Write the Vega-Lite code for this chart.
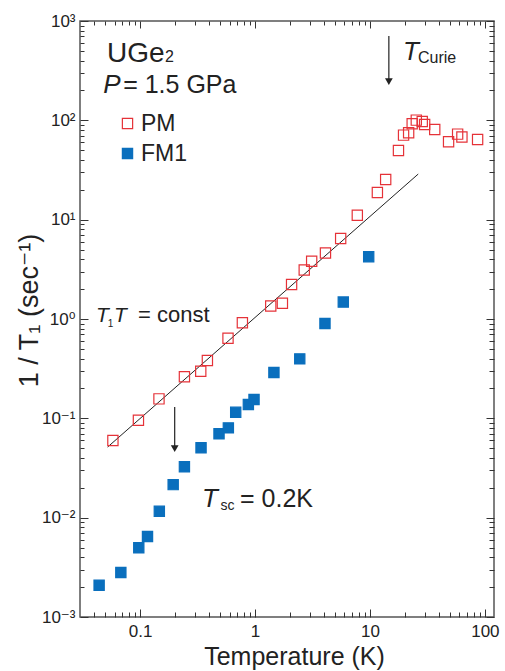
{
  "$schema": "https://vega.github.io/schema/vega-lite/v6.json",
  "width": 414,
  "height": 596,
  "autosize": {"type": "none"},
  "padding": {"left": 80, "top": 21, "right": 11, "bottom": 54},
  "background": "white",
  "datasets": {
    "points": [
      {"series": "PM", "T": 0.058, "R": 0.0598},
      {"series": "PM", "T": 0.0967, "R": 0.0957},
      {"series": "PM", "T": 0.146, "R": 0.157},
      {"series": "PM", "T": 0.243, "R": 0.262},
      {"series": "PM", "T": 0.337, "R": 0.298},
      {"series": "PM", "T": 0.385, "R": 0.382},
      {"series": "PM", "T": 0.582, "R": 0.641},
      {"series": "PM", "T": 0.776, "R": 0.916},
      {"series": "PM", "T": 1.37, "R": 1.35},
      {"series": "PM", "T": 1.73, "R": 1.44},
      {"series": "PM", "T": 2.08, "R": 2.23},
      {"series": "PM", "T": 2.68, "R": 3.12},
      {"series": "PM", "T": 3.11, "R": 3.82},
      {"series": "PM", "T": 4.1, "R": 4.61},
      {"series": "PM", "T": 5.56, "R": 6.47},
      {"series": "PM", "T": 7.76, "R": 11.1},
      {"series": "PM", "T": 11.6, "R": 18.8},
      {"series": "PM", "T": 13.7, "R": 25.4},
      {"series": "PM", "T": 17.7, "R": 49.8},
      {"series": "PM", "T": 19.6, "R": 71.0},
      {"series": "PM", "T": 21.7, "R": 75.0},
      {"series": "PM", "T": 23.3, "R": 92.4},
      {"series": "PM", "T": 25.3, "R": 100.5},
      {"series": "PM", "T": 28.5, "R": 97.5},
      {"series": "PM", "T": 29.9, "R": 91.0},
      {"series": "PM", "T": 36.6, "R": 81.0},
      {"series": "PM", "T": 48.3, "R": 60.9},
      {"series": "PM", "T": 57.9, "R": 72.6},
      {"series": "PM", "T": 63.1, "R": 67.8},
      {"series": "PM", "T": 86.4, "R": 64.2},
      {"series": "FM1", "T": 0.044, "R": 0.00209},
      {"series": "FM1", "T": 0.068, "R": 0.0028},
      {"series": "FM1", "T": 0.0974, "R": 0.00497},
      {"series": "FM1", "T": 0.116, "R": 0.00646},
      {"series": "FM1", "T": 0.147, "R": 0.0116},
      {"series": "FM1", "T": 0.194, "R": 0.0215},
      {"series": "FM1", "T": 0.243, "R": 0.0325},
      {"series": "FM1", "T": 0.339, "R": 0.0505},
      {"series": "FM1", "T": 0.486, "R": 0.0698},
      {"series": "FM1", "T": 0.586, "R": 0.0802},
      {"series": "FM1", "T": 0.679, "R": 0.115},
      {"series": "FM1", "T": 0.875, "R": 0.138},
      {"series": "FM1", "T": 0.98, "R": 0.155},
      {"series": "FM1", "T": 1.46, "R": 0.289},
      {"series": "FM1", "T": 2.45, "R": 0.397},
      {"series": "FM1", "T": 4.06, "R": 0.901},
      {"series": "FM1", "T": 5.86, "R": 1.48},
      {"series": "FM1", "T": 9.75, "R": 4.23}
    ],
    "fit": [
      {"T": 0.0522, "R": 0.0514},
      {"T": 26.3, "R": 28.8}
    ],
    "arrows": [
      {"T": 14.6, "R": 706, "R2": 245.5},
      {"T": 0.2, "R": 0.13, "R2": 0.0496}
    ]
  },
  "config": {
    "font": "Liberation Sans",
    "view": {"stroke": "#555", "strokeWidth": 1.5},
    "axis": {
      "domain": false,
      "grid": false,
      "tickColor": "#333",
      "tickWidth": 1,
      "labelFont": "Liberation Sans, DejaVu Sans",
      "labelFontSize": 17,
      "labelColor": "#222",
      "titleFont": "Liberation Sans, DejaVu Sans",
      "titleFontSize": 25,
      "titleFontWeight": "normal",
      "titleColor": "#222",
      "labelOverlap": false,
      "labelBound": false,
      "labelFlush": false
    },
    "legend": {
      "symbolType": "square",
      "symbolSize": 105,
      "symbolStrokeWidth": 1.2,
      "labelFont": "Liberation Sans",
      "labelFontSize": 23,
      "labelColor": "#222",
      "labelOffset": 2,
      "rowPadding": 6,
      "padding": 0,
      "offset": 0
    }
  },
  "resolve": {"axis": {"x": "independent", "y": "independent"}},
  "layer": [
    {
      "data": {"name": "fit"},
      "mark": {"type": "line", "color": "#222", "strokeWidth": 1},
      "encoding": {
        "x": {
          "field": "T", "type": "quantitative",
          "scale": {"type": "log", "domain": [0.03, 120], "nice": false},
          "axis": {
            "orient": "top", "title": null, "labels": false,
            "values": [0.04,0.05,0.06,0.07,0.08,0.09,0.1,0.2,0.3,0.4,0.5,0.6,0.7,0.8,0.9,1,2,3,4,5,6,7,8,9,10,20,30,40,50,60,70,80,90,100],
            "tickSize": {"condition": {"test": "indexof([0.1,1,10,100], datum.value) >= 0", "value": -7}, "value": -4}
          }
        },
        "y": {
          "field": "R", "type": "quantitative",
          "scale": {"type": "log", "domain": [0.001, 1000], "nice": false},
          "axis": {
            "orient": "right", "title": null, "labels": false,
            "values": [0.001,0.002,0.003,0.004,0.005,0.006,0.007,0.008,0.009,0.01,0.02,0.03,0.04,0.05,0.06,0.07,0.08,0.09,0.1,0.2,0.3,0.4,0.5,0.6,0.7,0.8,0.9,1,2,3,4,5,6,7,8,9,10,20,30,40,50,60,70,80,90,100,200,300,400,500,600,700,800,900,1000],
            "tickSize": {"condition": {"test": "indexof([0.001,0.01,0.1,1,10,100,1000], datum.value) >= 0", "value": -8}, "value": -5}
          }
        }
      }
    },
    {
      "data": {"name": "points"},
      "mark": {"type": "point", "shape": "square", "size": 105, "strokeWidth": 1.2, "opacity": 1},
      "encoding": {
        "x": {
          "field": "T", "type": "quantitative",
          "scale": {"type": "log", "domain": [0.03, 120], "nice": false},
          "axis": {
            "orient": "bottom", "title": "Temperature (K)",
            "titleX": 214, "titleY": 47, "titleAlign": "center", "titleBaseline": "alphabetic",
            "values": [0.04,0.05,0.06,0.07,0.08,0.09,0.1,0.2,0.3,0.4,0.5,0.6,0.7,0.8,0.9,1,2,3,4,5,6,7,8,9,10,20,30,40,50,60,70,80,90,100],
            "labelExpr": "datum.value == 0.1 ? '0.1' : datum.value == 1 ? '1' : datum.value == 10 ? '10' : datum.value == 100 ? '100' : ''",
            "labelPadding": 14,
            "tickSize": {"condition": {"test": "indexof([0.1,1,10,100], datum.value) >= 0", "value": -8}, "value": -5}
          }
        },
        "y": {
          "field": "R", "type": "quantitative",
          "scale": {"type": "log", "domain": [0.001, 1000], "nice": false},
          "axis": {
            "orient": "left", "title": "1 / T₁  (sec⁻¹)",
            "titleX": -43, "titleY": 289, "titleAlign": "center", "titleBaseline": "alphabetic", "titleFontSize": 27,
            "values": [0.001,0.002,0.003,0.004,0.005,0.006,0.007,0.008,0.009,0.01,0.02,0.03,0.04,0.05,0.06,0.07,0.08,0.09,0.1,0.2,0.3,0.4,0.5,0.6,0.7,0.8,0.9,1,2,3,4,5,6,7,8,9,10,20,30,40,50,60,70,80,90,100,200,300,400,500,600,700,800,900,1000],
            "labelExpr": "datum.value == 1000 ? '10³' : datum.value == 100 ? '10²' : datum.value == 10 ? '10¹' : datum.value == 1 ? '10⁰' : datum.value == 0.1 ? '10⁻¹' : datum.value == 0.01 ? '10⁻²' : datum.value == 0.001 ? '10⁻³' : ''",
            "labelPadding": 13,
            "tickSize": {"condition": {"test": "indexof([0.001,0.01,0.1,1,10,100,1000], datum.value) >= 0", "value": -8}, "value": -4}
          }
        },
        "stroke": {
          "field": "series", "type": "nominal",
          "scale": {"domain": ["PM", "FM1"], "range": ["#e53238", "#0a6fbd"]},
          "legend": {"orient": "none", "legendX": 36, "legendY": 91, "title": null}
        },
        "fill": {
          "field": "series", "type": "nominal",
          "scale": {"domain": ["PM", "FM1"], "range": ["transparent", "#0a6fbd"]},
          "legend": {"orient": "none", "legendX": 36, "legendY": 91, "title": null}
        }
      }
    },
    {
      "data": {"name": "arrows"},
      "mark": {"type": "rule", "color": "#222", "strokeWidth": 1.2},
      "encoding": {
        "x": {"field": "T", "type": "quantitative", "scale": {"type": "log", "domain": [0.03, 120], "nice": false}, "axis": null},
        "y": {"field": "R", "type": "quantitative", "scale": {"type": "log", "domain": [0.001, 1000], "nice": false}, "axis": null},
        "y2": {"field": "R2"}
      }
    },
    {
      "data": {"name": "arrows"},
      "mark": {"type": "point", "shape": "triangle-down", "size": 60, "filled": true, "color": "#222", "opacity": 1},
      "encoding": {
        "x": {"field": "T", "type": "quantitative", "scale": {"type": "log", "domain": [0.03, 120], "nice": false}, "axis": null},
        "y": {"field": "R2", "type": "quantitative", "scale": {"type": "log", "domain": [0.001, 1000], "nice": false}, "axis": null}
      }
    },
    {
      "data": {"values": [{"T": 0.0516, "R": 386.6, "label": "UGe"}]},
      "mark": {"type": "text", "align": "left", "baseline": "alphabetic", "fontSize": 28, "color": "#222", "font": "Liberation Sans"},
      "encoding": {
        "x": {"field": "T", "type": "quantitative", "scale": {"type": "log", "domain": [0.03, 120], "nice": false}, "axis": null},
        "y": {"field": "R", "type": "quantitative", "scale": {"type": "log", "domain": [0.001, 1000], "nice": false}, "axis": null},
        "text": {"field": "label"}
      }
    },
    {
      "data": {"values": [
        {"T": 0.0712, "R": 188.4, "label": "= 1.5 GPa"},
        {"T": 0.7404, "R": 0.0128, "label": "= 0.2K"}
      ]},
      "mark": {"type": "text", "align": "left", "baseline": "alphabetic", "fontSize": 25, "color": "#222", "font": "Liberation Sans"},
      "encoding": {
        "x": {"field": "T", "type": "quantitative", "scale": {"type": "log", "domain": [0.03, 120], "nice": false}, "axis": null},
        "y": {"field": "R", "type": "quantitative", "scale": {"type": "log", "domain": [0.001, 1000], "nice": false}, "axis": null},
        "text": {"field": "label"}
      }
    },
    {
      "data": {"values": [
        {"T": 0.0477, "R": 188.4, "label": "P"},
        {"T": 19.36, "R": 404.7, "label": "T"},
        {"T": 0.346, "R": 0.0128, "label": "T"}
      ]},
      "mark": {"type": "text", "align": "left", "baseline": "alphabetic", "fontSize": 26, "fontStyle": "italic", "color": "#222", "font": "Liberation Sans"},
      "encoding": {
        "x": {"field": "T", "type": "quantitative", "scale": {"type": "log", "domain": [0.03, 120], "nice": false}, "axis": null},
        "y": {"field": "R", "type": "quantitative", "scale": {"type": "log", "domain": [0.001, 1000], "nice": false}, "axis": null},
        "text": {"field": "label"}
      }
    },
    {
      "data": {"values": [
        {"T": 0.165, "R": 386.6, "label": "2"},
        {"T": 26.15, "R": 377.6, "label": "Curie"}
      ]},
      "mark": {"type": "text", "align": "left", "baseline": "alphabetic", "fontSize": 16, "color": "#222", "font": "Liberation Sans"},
      "encoding": {
        "x": {"field": "T", "type": "quantitative", "scale": {"type": "log", "domain": [0.03, 120], "nice": false}, "axis": null},
        "y": {"field": "R", "type": "quantitative", "scale": {"type": "log", "domain": [0.001, 1000], "nice": false}, "axis": null},
        "text": {"field": "label"}
      }
    },
    {
      "data": {"values": [
        {"T": 0.5, "R": 0.01194, "label": "sc"}
      ]},
      "mark": {"type": "text", "align": "left", "baseline": "alphabetic", "fontSize": 14, "color": "#222", "font": "Liberation Sans"},
      "encoding": {
        "x": {"field": "T", "type": "quantitative", "scale": {"type": "log", "domain": [0.03, 120], "nice": false}, "axis": null},
        "y": {"field": "R", "type": "quantitative", "scale": {"type": "log", "domain": [0.001, 1000], "nice": false}, "axis": null},
        "text": {"field": "label"}
      }
    },
    {
      "data": {"values": [
        {"T": 0.04143, "R": 0.933, "label": "T"},
        {"T": 0.0594, "R": 0.933, "label": "T"}
      ]},
      "mark": {"type": "text", "align": "left", "baseline": "alphabetic", "fontSize": 21, "fontStyle": "italic", "color": "#222", "font": "Liberation Sans"},
      "encoding": {
        "x": {"field": "T", "type": "quantitative", "scale": {"type": "log", "domain": [0.03, 120], "nice": false}, "axis": null},
        "y": {"field": "R", "type": "quantitative", "scale": {"type": "log", "domain": [0.001, 1000], "nice": false}, "axis": null},
        "text": {"field": "label"}
      }
    },
    {
      "data": {"values": [{"T": 0.0961, "R": 0.933, "label": "= const"}]},
      "mark": {"type": "text", "align": "left", "baseline": "alphabetic", "fontSize": 22, "color": "#222", "font": "Liberation Sans"},
      "encoding": {
        "x": {"field": "T", "type": "quantitative", "scale": {"type": "log", "domain": [0.03, 120], "nice": false}, "axis": null},
        "y": {"field": "R", "type": "quantitative", "scale": {"type": "log", "domain": [0.001, 1000], "nice": false}, "axis": null},
        "text": {"field": "label"}
      }
    },
    {
      "data": {"values": [{"T": 0.0522, "R": 0.831, "label": "1"}]},
      "mark": {"type": "text", "align": "left", "baseline": "alphabetic", "fontSize": 10, "color": "#222", "font": "Liberation Sans"},
      "encoding": {
        "x": {"field": "T", "type": "quantitative", "scale": {"type": "log", "domain": [0.03, 120], "nice": false}, "axis": null},
        "y": {"field": "R", "type": "quantitative", "scale": {"type": "log", "domain": [0.001, 1000], "nice": false}, "axis": null},
        "text": {"field": "label"}
      }
    }
  ]
}
